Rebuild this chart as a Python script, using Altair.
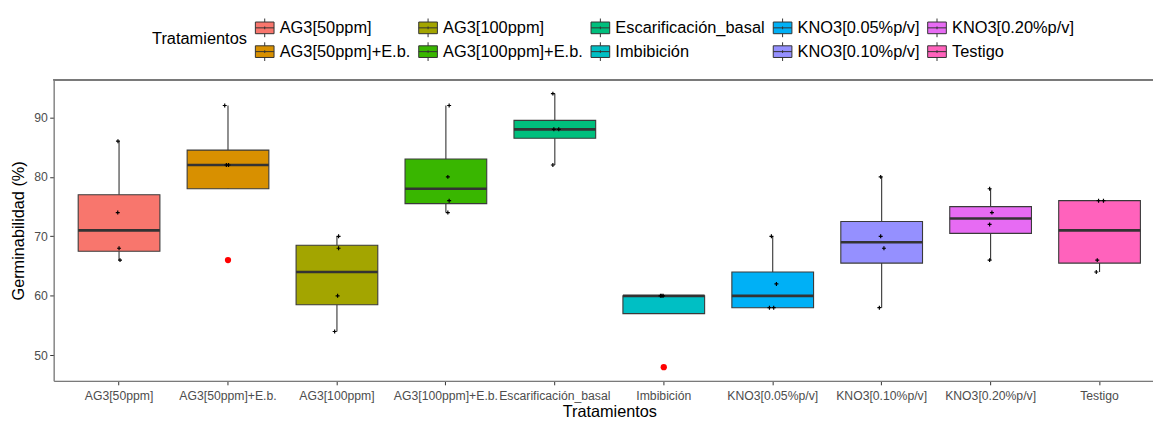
import altair as alt
import numpy as np
import pandas as pd

# ---- data ----
tratamientos = ["AG3[50ppm]", "AG3[50ppm]+E.b.", "AG3[100ppm]", "AG3[100ppm]+E.b.",
                "Escarificación_basal", "Imbibición", "KNO3[0.05%p/v]", "KNO3[0.10%p/v]",
                "KNO3[0.20%p/v]", "Testigo"]
colores = ["#F8766D", "#D89000", "#A3A500", "#39B600", "#00BF7D",
           "#00BFC4", "#00B0F6", "#9590FF", "#E76BF3", "#FF62BC"]

g_ag50 = [86, 74, 68, 66]
g_ag50eb = [92, 82, 82, 66]
g_ag100 = [70, 68, 60, 54]
g_ag100eb = [92, 80, 76, 74]
g_escar = [94, 88, 88, 82]
g_imb = [60, 60, 60, 48]
g_kno005 = [70, 62, 58, 58]
g_kno010 = [80, 70, 68, 58]
g_kno020 = [78, 74, 72, 66]
g_testigo = [76, 76, 66, 64]

# horizontal jitter of the raw points, as a fraction of one category step
j_ag50 = [-0.010, -0.012, 0.000, 0.009]
j_ag50eb = [-0.030, -0.015, 0.005, 0.000]
j_ag100 = [0.015, 0.015, 0.006, -0.021]
j_ag100eb = [0.030, 0.018, 0.030, 0.018]
j_escar = [-0.018, -0.009, 0.036, -0.018]
j_imb = [-0.030, -0.006, -0.018, 0.000]
j_kno005 = [-0.012, 0.034, -0.030, 0.009]
j_kno010 = [-0.009, -0.009, 0.021, -0.021]
j_kno020 = [-0.009, 0.012, -0.009, -0.009]
j_testigo = [-0.009, 0.036, -0.021, -0.030]

grupos = [g_ag50, g_ag50eb, g_ag100, g_ag100eb, g_escar, g_imb, g_kno005, g_kno010, g_kno020, g_testigo]
jitters = [j_ag50, j_ag50eb, j_ag100, j_ag100eb, j_escar, j_imb, j_kno005, j_kno010, j_kno020, j_testigo]

# ---- tables ----
rows, summ, outl = [], [], []
for t, vals, jit in zip(tratamientos, grupos, jitters):
    for v, j in zip(vals, jit):
        rows.append({"Tratamientos": t, "valor": v, "jitter": j})
    a = np.array(vals, dtype=float)
    q1, med, q3 = np.percentile(a, [25, 50, 75])
    iqr = q3 - q1
    lo_f, hi_f = q1 - 1.5 * iqr, q3 + 1.5 * iqr
    inside = a[(a >= lo_f) & (a <= hi_f)]
    summ.append({"Tratamientos": t, "q1": q1, "med": med, "q3": q3,
                 "lo": inside.min(), "hi": inside.max()})
    for v in a[(a < lo_f) | (a > hi_f)]:
        outl.append({"Tratamientos": t, "valor": v})

pts = pd.DataFrame(rows)
sm = pd.DataFrame(summ)
ol = pd.DataFrame(outl)

FONT = "Liberation Sans"
W_FULL = 1119
STEP = W_FULL / 10.2
ymin, ymax = 45.7, 96.3

xscale = alt.Scale(domain=tratamientos, range=[0, W_FULL], paddingInner=0, paddingOuter=0.1)
yscale = alt.Scale(domain=[ymin, ymax], nice=False, zero=False)

xenc = alt.X("Tratamientos:N", scale=xscale, sort=tratamientos,
             axis=alt.Axis(title="Tratamientos", labelAngle=0, labelFontSize=12.3,
                           labelColor="#4D4D4D", labelFont=FONT, tickColor="#333333",
                           tickSize=4, labelPadding=4.5, domainColor="#7a7a7a",
                           domainWidth=1.3, titleFontSize=16.4, titleFontWeight="normal",
                           titleColor="black", titleFont=FONT, titlePadding=2,
                           labelOverlap=False, labelLimit=300))
yaxis = alt.Axis(title="Germinabilidad (%)", values=[50, 60, 70, 80, 90], grid=False,
                 labelFontSize=12.3, labelColor="#4D4D4D", labelFont=FONT,
                 tickColor="#333333", tickSize=4, labelPadding=2.5,
                 domainColor="#7a7a7a", domainWidth=1.3, titleFontSize=16.4,
                 titleFontWeight="normal", titleColor="black", titleFont=FONT,
                 titlePadding=7)

key_path = "M-0.8,-0.5H0.8V0.5H-0.8Z M0,-0.8V-0.5 M0,0.5V0.8 M-0.8,0H0.8 M0,-0.12V0.12"

whisk_lo = alt.Chart(sm).mark_rule(color="#333333", strokeWidth=1.1).encode(
    x=xenc, y=alt.Y("lo:Q", scale=yscale, axis=yaxis), y2="q1:Q")
whisk_hi = alt.Chart(sm).mark_rule(color="#333333", strokeWidth=1.1).encode(
    x=xenc, y=alt.Y("q3:Q", scale=yscale, axis=yaxis), y2="hi:Q")

box = alt.Chart(sm).mark_bar(width=0.75 * STEP, stroke="#3a3a3a",
                             strokeWidth=1.1, opacity=1).encode(
    x=xenc,
    y=alt.Y("q1:Q", scale=yscale, axis=yaxis), y2="q3:Q",
    fill=alt.Fill("Tratamientos:N",
                  scale=alt.Scale(domain=tratamientos, range=colores),
                  legend=alt.Legend(title="Tratamientos", orient="none", legendX=99,
                                    legendY=-65, columns=5, columnPadding=4.5,
                                    rowPadding=0, padding=0,
                                    symbolType=key_path, symbolSize=552,
                                    symbolStrokeColor="#333333", symbolStrokeWidth=1,
                                    symbolOpacity=1, labelOffset=2.6,
                                    labelFontSize=16.5, labelFont=FONT, labelColor="black",
                                    labelLimit=400, titleFontSize=16.5, titleFont=FONT,
                                    titleFontWeight="normal", titleColor="black",
                                    titleOrient="left", titleAnchor="middle",
                                    titleBaseline="middle", titlePadding=5,
                                    gridAlign="each")))

median = alt.Chart(sm).mark_tick(size=0.75 * STEP, thickness=2.7, color="#333333",
                                 opacity=1).encode(
    x=xenc, y=alt.Y("med:Q", scale=yscale, axis=yaxis))

points = alt.Chart(pts).mark_point(shape="M-1,0H1M0,-1V1", filled=False, size=16,
                                   color="black", strokeWidth=1.2, opacity=1).encode(
    x=xenc,
    xOffset=alt.XOffset("jitter:Q", scale=alt.Scale(domain=[-0.5, 0.5], nice=False, zero=False)),
    y=alt.Y("valor:Q", scale=yscale, axis=yaxis))

outliers = alt.Chart(ol).mark_circle(color="#FF0000", size=40, opacity=1).encode(
    x=xenc, y=alt.Y("valor:Q", scale=yscale, axis=yaxis))

top_border = alt.Chart(sm).mark_rule(color="#7a7a7a", strokeWidth=1.3).encode(
    y=alt.value(0))

chart = alt.layer(whisk_lo, whisk_hi, box, median, points, outliers, top_border).properties(
    width=1107, height=303,
    padding={"left": 46, "top": 71, "right": 0, "bottom": 39},
    autosize=alt.AutoSizeParams(type="none"),
).configure_view(stroke=None).configure(font=FONT, background="white")

chart.save("out.html", embed_options={"renderer": "svg", "actions": False})
